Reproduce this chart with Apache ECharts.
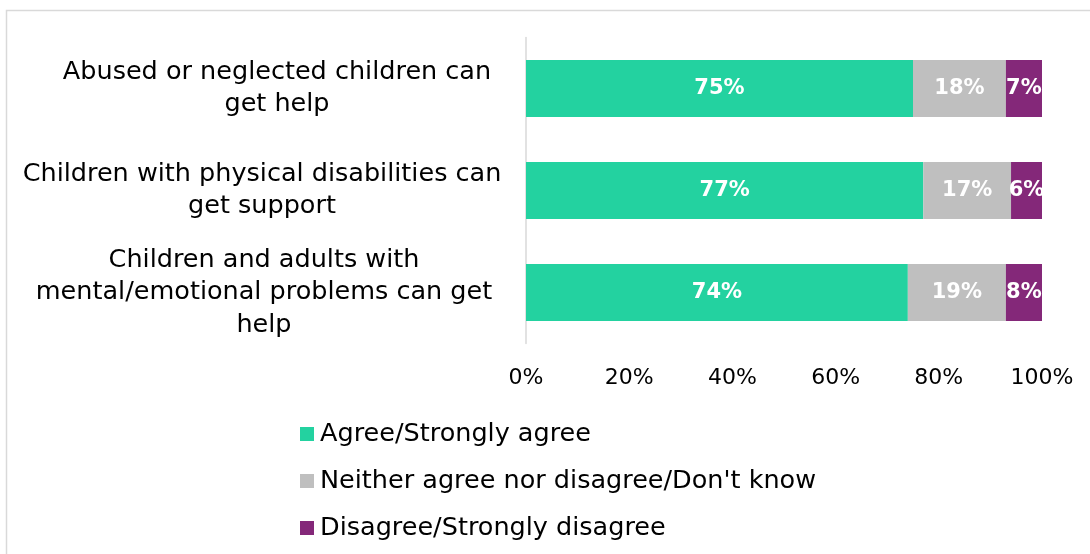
<!DOCTYPE html>
<html><head><meta charset="utf-8">
<script src="https://cdn.jsdelivr.net/npm/echarts@6/dist/echarts.min.js"></script>
<style>html,body{margin:0;padding:0;background:#fff}#c{width:1090px;height:554px}</style>
</head><body><div id="c"></div>
<script>
const categories = [
  "Abused or neglected children can\nget help",
  "Children with physical disabilities can\nget support",
  "Children and adults with\nmental/emotional problems can get\nhelp"
];
const seriesNames = ["Agree/Strongly agree", "Neither agree nor disagree/Don't know", "Disagree/Strongly disagree"];
const agree = [75, 77, 74];
const neither = [18, 17, 19];
const disagree = [7, 6, 8];
const tickLabels = ["0%", "20%", "40%", "60%", "80%", "100%"];

const FONT = "DejaVu Sans";
const colors = ["#23D2A0", "#BFBFBF", "#842879"];
const blockW = [446, 476, 472];

const chart = echarts.init(document.getElementById('c'));
function mk(name, data, i) {
  return {
    name: name, type: 'bar', stack: 'all', data: data, barWidth: 57,
    itemStyle: { color: colors[i] },
    label: { show: true, position: 'inside', formatter: p => p.value + '%',
      color: '#fff', fontFamily: FONT, fontWeight: 'bold', fontSize: 21 }
  };
}
const catStyle = w => ({ width: w, align: 'center', fontFamily: FONT, fontSize: 25.5, lineHeight: 32.5, color: '#000' });
chart.setOption({
  animation: false,
  grid: { left: 526, right: 48, top: 37.5, bottom: 210.5, containLabel: false },
  graphic: [{ type: 'rect', left: 4, top: 8, shape: { width: 1100, height: 600 },
    style: { fill: 'none', stroke: '#d9d9d9', lineWidth: 1.5 } }],
  xAxis: { type: 'value', min: 0, max: 100, interval: 20,
    axisLine: { show: false }, axisTick: { show: false }, splitLine: { show: false },
    axisLabel: { formatter: v => tickLabels[v / 20], fontFamily: FONT, fontSize: 22, color: '#000', margin: 24 } },
  yAxis: { type: 'category', data: categories, inverse: true,
    axisLine: { show: true, lineStyle: { color: '#d9d9d9', width: 1.5 } }, axisTick: { show: false },
    axisLabel: { margin: 26, align: 'right',
      formatter: (v, i) => v.split('\n').map(l => '{s' + i + '|' + l + '}').join('\n'),
      rich: { s0: catStyle(blockW[0]), s1: catStyle(blockW[1]), s2: catStyle(blockW[2]) } } },
  legend: { orient: 'vertical', left: 295, top: 416, itemWidth: 14, itemHeight: 14, itemGap: 21,
    icon: 'rect', data: seriesNames,
    textStyle: { fontFamily: FONT, fontSize: 25.5, lineHeight: 26, color: '#000', padding: [0, 0, 0, 1] } },
  series: [mk(seriesNames[0], agree, 0), mk(seriesNames[1], neither, 1), mk(seriesNames[2], disagree, 2)]
});
</script></body></html>
